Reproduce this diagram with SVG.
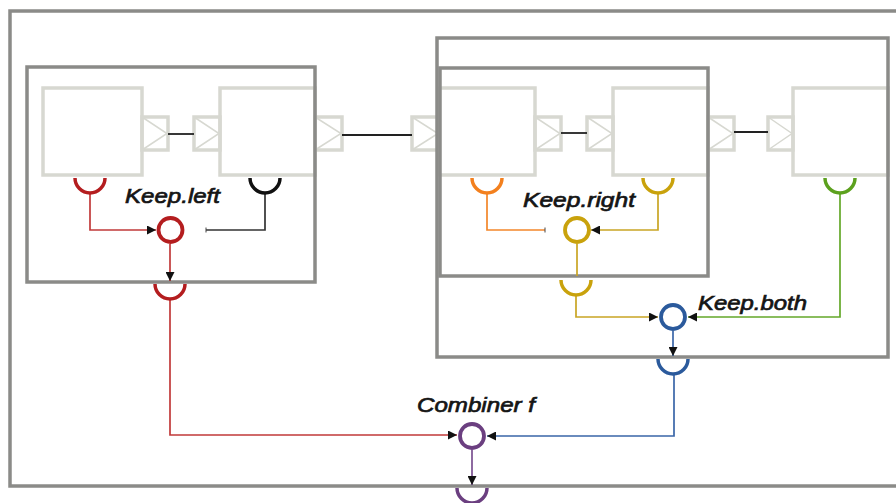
<svg xmlns="http://www.w3.org/2000/svg" width="896" height="503" viewBox="0 0 896 503">
<style>
.frame{fill:none;stroke:#8b8b88;stroke-width:3.5}
.blk{fill:none;stroke:#d7d8d1;stroke-width:3.5}
.tri{fill:none;stroke:#d7d8d1;stroke-width:1.5}
.wire{fill:none;stroke:#222;stroke-width:1.8}
.cup{fill:none;stroke-width:3.5}
.op{fill:#fff;stroke-width:3.8}
.ln{fill:none;stroke-width:1.7}
.lbl{font-family:"Liberation Sans",Arial,sans-serif;font-style:italic;font-weight:normal;font-size:21px;fill:#151515;stroke:#151515;stroke-width:0.7}
.red{stroke:#b41d1f}.blk2{stroke:#111}.org{stroke:#f3801e}.yel{stroke:#c9a20c}.grn{stroke:#5ca11e}.blu{stroke:#2b5a9c}.pur{stroke:#6b3f80}
.redl{stroke:#c13a3a}.orgl{stroke:#f3862a}.yell{stroke:#c9a524}.grnl{stroke:#64a82a}.blul{stroke:#3a66a8}.purl{stroke:#7a5090}
</style>
<defs>
<marker id="arr" markerUnits="userSpaceOnUse" viewBox="0 0 10 10" markerWidth="9" markerHeight="9" refX="10" refY="5" orient="auto">
<path d="M0,0 L10,5 L0,10 z" fill="#111"/>
</marker>
<marker id="bar" markerUnits="userSpaceOnUse" viewBox="0 0 4 10" markerWidth="2" markerHeight="9" refX="2" refY="5" orient="auto">
<path d="M2,0 L2,10" stroke="#444" stroke-width="2" fill="none"/>
</marker>
</defs>

<g id="outer-frame"><rect class="frame" x="10" y="11" width="900" height="475"/></g>

<g id="blocks">
<g id="block1"><rect class="blk" x="43" y="88" width="99" height="87"/>
<rect class="blk" x="142" y="117" width="26" height="33"/><path class="tri" d="M142,117 L167,133.5 L142,150"/></g>
<g id="block2"><rect class="blk" x="194" y="117" width="26" height="33"/><path class="tri" d="M194,117 L219,133.5 L194,150"/>
<rect class="blk" x="220" y="88" width="95" height="87"/>
<rect class="blk" x="315" y="117" width="27" height="33"/><path class="tri" d="M315,117 L341,133.5 L315,150"/></g>
<g id="block3"><rect class="blk" x="412" y="117" width="27" height="33"/><path class="tri" d="M412,117 L438,133.5 L412,150"/>
<rect class="blk" x="439" y="88" width="96" height="87"/>
<rect class="blk" x="535" y="117" width="26" height="33"/><path class="tri" d="M535,117 L560,133.5 L535,150"/></g>
<g id="block4"><rect class="blk" x="587" y="117" width="26" height="33"/><path class="tri" d="M587,117 L612,133.5 L587,150"/>
<rect class="blk" x="613" y="88" width="95" height="87"/>
<rect class="blk" x="708" y="117" width="26" height="33"/><path class="tri" d="M708,117 L733,133.5 L708,150"/></g>
<g id="block5"><rect class="blk" x="768" y="117" width="25" height="33"/><path class="tri" d="M768,117 L792,133.5 L768,150"/>
<rect class="blk" x="793" y="88" width="95" height="87"/></g>
</g>

<g id="module-left"><rect class="frame" x="27" y="67" width="288" height="215"/></g>
<g id="module-right-outer"><rect class="frame" x="437" y="38" width="451" height="319"/></g>
<g id="module-right-inner"><rect class="frame" x="440" y="68" width="268" height="208"/></g>

<g id="connectors">
<path class="wire" d="M168,134 H194"/>
<path class="wire" d="M342,135 H412"/>
<path class="wire" d="M561,133 H587"/>
<path class="wire" d="M734,132 H768"/>
<path class="ln redl" d="M90,193 V230 H156" marker-end="url(#arr)"/>
<path class="ln" stroke="#333" d="M265,193 V230 H206" marker-end="url(#bar)"/>
<path class="ln redl" d="M170,244 V281" marker-end="url(#arr)"/>
<path class="ln redl" d="M170,299 V435 H457" marker-end="url(#arr)"/>
<path class="ln orgl" d="M487,193 V230 H545" marker-end="url(#bar)"/>
<path class="ln yell" d="M658,193 V230 H591" marker-end="url(#arr)"/>
<path class="ln yell" d="M577,244 V276"/>
<path class="ln yell" d="M576,295 V317 H658" marker-end="url(#arr)"/>
<path class="ln grnl" d="M840,193 V317 H688" marker-end="url(#arr)"/>
<path class="ln blul" d="M673,331 V356" marker-end="url(#arr)"/>
<path class="ln blul" d="M674,374 V436 H487" marker-end="url(#arr)"/>
<path class="ln purl" d="M472,450 V485" marker-end="url(#arr)"/>
</g>

<g id="cups">
<path class="cup red" d="M75,178 A15,15 0 0 0 105,178"/>
<path class="cup blk2" d="M250,178 A15,15 0 0 0 280,178"/>
<path class="cup red" d="M155,284 A15,15 0 0 0 185,284"/>
<path class="cup org" d="M472,178 A15,15 0 0 0 502,178"/>
<path class="cup yel" d="M643,178 A15,15 0 0 0 673,178"/>
<path class="cup grn" d="M825,178 A15,15 0 0 0 855,178"/>
<path class="cup yel" d="M561,280 A15,15 0 0 0 591,280"/>
<path class="cup blu" d="M658,359 A15,15 0 0 0 688,359"/>
<path class="cup pur" d="M457,488 A15,15 0 0 0 487,488"/>
</g>

<g id="keep-left"><circle class="op red" cx="170.5" cy="230" r="12"/><text class="lbl" x="125" y="203" textLength="95" lengthAdjust="spacingAndGlyphs">Keep.left</text></g>
<g id="keep-right"><circle class="op yel" cx="577" cy="230" r="12"/><text class="lbl" x="523" y="207" textLength="112" lengthAdjust="spacingAndGlyphs">Keep.right</text></g>
<g id="keep-both"><circle class="op blu" cx="673" cy="317" r="12"/><text class="lbl" x="698" y="310" textLength="109" lengthAdjust="spacingAndGlyphs">Keep.both</text></g>
<g id="combiner"><circle class="op pur" cx="472" cy="436" r="12"/><text class="lbl" x="417" y="412" textLength="118" lengthAdjust="spacingAndGlyphs">Combiner f</text></g>
</svg>
